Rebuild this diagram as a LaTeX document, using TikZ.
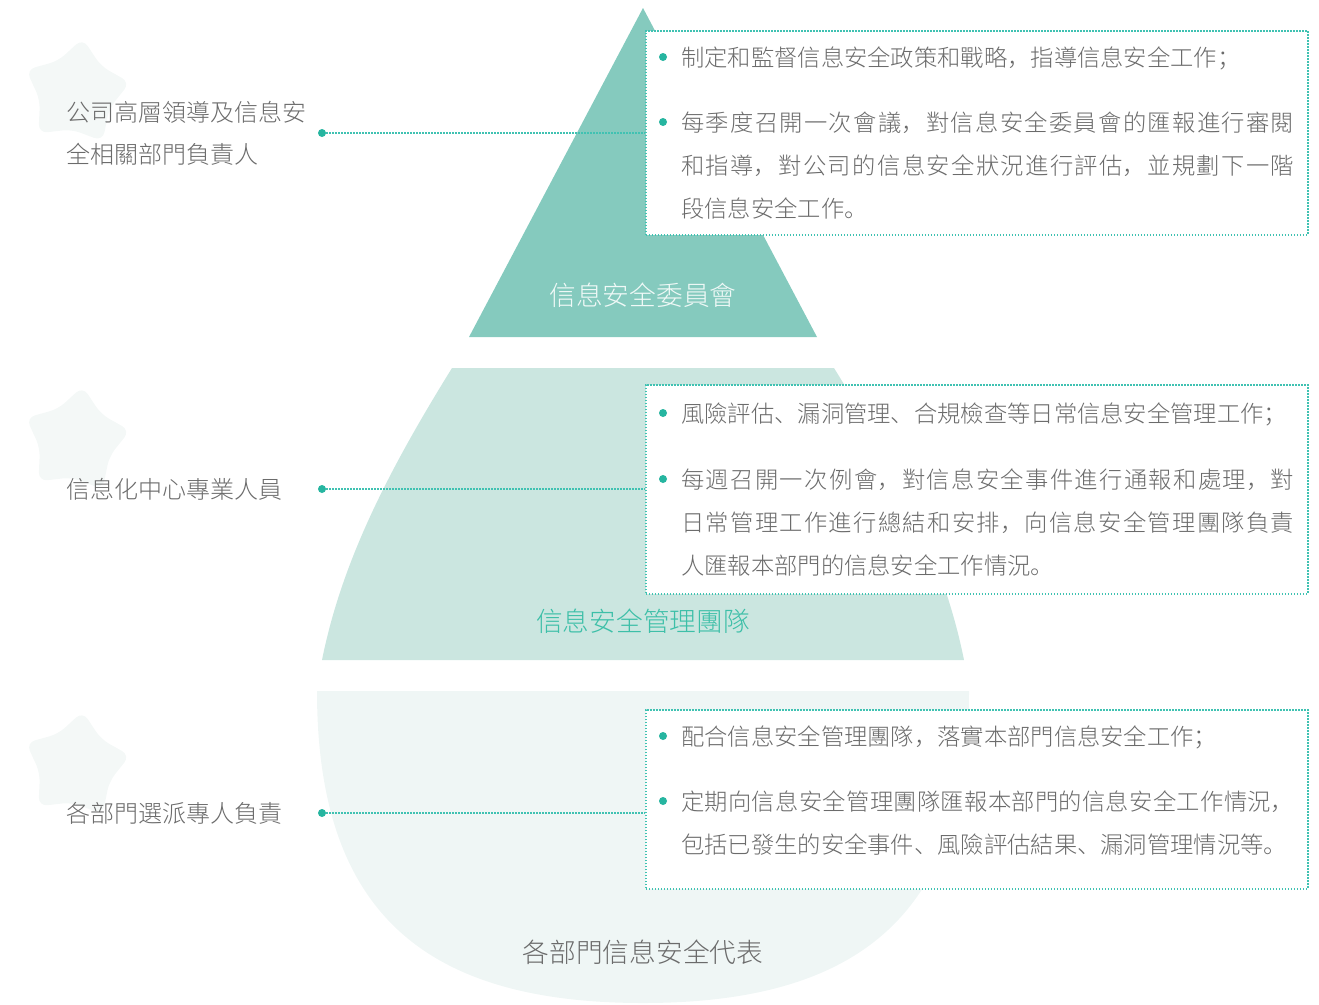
\documentclass[tikz,border=0pt]{standalone}
\usepackage{fontspec}
\IfFontExistsTF{Noto Sans CJK SC Light}
    {\setmainfont{Noto Sans CJK SC Light}}
    {\setmainfont{Noto Sans CJK SC}}
\usetikzlibrary{shapes.geometric,calc}
\XeTeXlinebreaklocale "zh"
\XeTeXlinebreakskip=0pt plus 4bp
\tolerance=9999

\definecolor{toptier}{HTML}{85CABE}
\definecolor{midtier}{HTML}{CBE6E0}
\definecolor{lowtier}{HTML}{EFF6F5}
\definecolor{starfill}{HTML}{F4F8F7}
\definecolor{pinteal}{HTML}{26B5A0}
\definecolor{linkteal}{HTML}{40C2B2}
\definecolor{textgray}{HTML}{6B6B6B}
\definecolor{titleteal}{HTML}{3DBFA8}

\begin{document}
\begin{tikzpicture}[x=1bp,y=-1bp,
    starbg/.style={star,star points=5,fill=starfill,rounded corners=9bp,minimum size=110bp,inner sep=0pt,shape border rotate=-7},
    role/.style={anchor=base west,text=textgray,font=\fontsize{24bp}{42bp}\selectfont,align=left,inner sep=0pt},
    tiertitle/.style={anchor=base,font=\fontsize{26.7bp}{30bp}\selectfont,inner sep=0pt},
    pin/.style={circle,fill=pinteal,inner sep=0pt,minimum size=8bp},
    link/.style={linkteal,line width=1.6bp,dash pattern=on 1.5bp off 1.5bp},
    dutybox/.style={draw=linkteal,fill=white,line width=1.6bp,dash pattern=on 1.5bp off 1.5bp,anchor=north west,inner sep=0pt,minimum width=662bp},
    duty/.style={anchor=base west,text width=613bp,align=justify,text=textgray,font=\fontsize{23.3bp}{43bp}\selectfont,inner sep=0pt}]
    \useasboundingbox (0,0) rectangle (1319,1004);

    % tiers
    \fill[lowtier] (317,691) -- (969,691) .. controls (969,911) and (863,1003) .. (643,1003) .. controls (423,1003) and (317,911) .. cycle;
    \fill[midtier] (452,368) -- (834,368) .. controls (896,468) and (944,560) .. (964,660) -- (322,660) .. controls (342,560) and (390,468) .. cycle;
    \fill[toptier] (643,8) -- (817,337) -- (469,337) -- cycle;

    % stars
    \node[starbg] (s1) at (76,93) {};
    \node[starbg] (s2) at (76,441) {};
    \node[starbg] (s3) at (76,766) {};

    % roles
    \node[role] (r1) at (66,163) {公司高層領導及信息安\\全相關部門負責人};
    \node[role] (r2) at (66,498) {信息化中心專業人員};
    \node[role] (r3) at (66,822) {各部門選派專人負責};

    \node[pin] (p1) at (322,133) {};
    \node[pin] (p2) at (322,489) {};
    \node[pin] (p3) at (322,813) {};

    % boxes
    \node[dutybox,minimum height=204bp] (box1) at (645,30) {};
    \node[dutybox,minimum height=209bp] (box2) at (645,384) {};
    \node[dutybox,minimum height=179bp] (box3) at (645,709) {};

    \draw[link] (p1) -- (p1 -| box1.west);
    \draw[link] (p2) -- (p2 -| box2.west);
    \draw[link] (p3) -- (p3 -| box3.west);

    % duties
    \node[duty] (d11) at (681,66) {制定和監督信息安全政策和戰略，指導信息安全工作；};
    \node[duty] (d12) at (681,131) {每季度召開一次會議，對信息安全委員會的匯報進行審閱\linebreak 和指導，對公司的信息安全狀況進行評估，並規劃下一階\linebreak 段信息安全工作。};
    \node[duty] (d21) at (681,422) {風險評估、漏洞管理、合規檢查等日常信息安全管理工作；};
    \node[duty] (d22) at (681,488) {每週召開一次例會，對信息安全事件進行通報和處理，對\linebreak 日常管理工作進行總結和安排，向信息安全管理團隊負責\linebreak 人匯報本部門的信息安全工作情況。};
    \node[duty] (d31) at (681,745) {配合信息安全管理團隊，落實本部門信息安全工作；};
    \node[duty] (d32) at (681,810) {定期向信息安全管理團隊匯報本部門的信息安全工作情況，\linebreak 包括已發生的安全事件、風險評估結果、漏洞管理情況等。};

    \foreach \d in {d11,d12,d21,d22,d31,d32}
        \node[pin] at ($(\d.base west)+(-18,-9)$) {};

    % tier titles
    \node[tiertitle,text=white!88!toptier] (t1) at (643,305) {信息安全委員會};
    \node[tiertitle,text=titleteal] (t2) at (643,631) {信息安全管理團隊};
    \node[tiertitle,text=textgray] (t3) at (643,962) {各部門信息安全代表};
\end{tikzpicture}
\end{document}
